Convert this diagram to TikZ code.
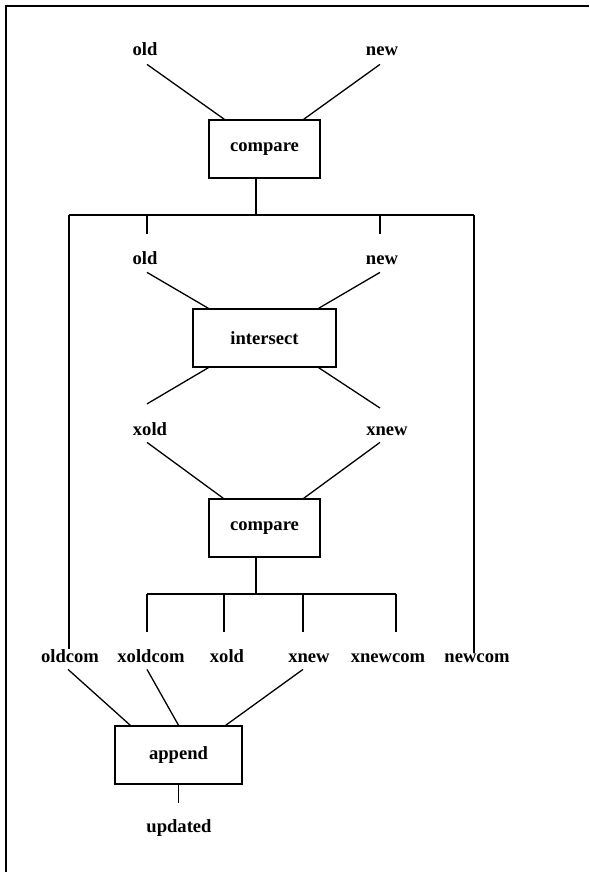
\documentclass[tikz,border=0pt]{standalone}
\usepackage{fontspec}
\setmainfont{Liberation Serif}
\usetikzlibrary{calc}
\tikzset{
  lbl/.style={inner sep=0pt, anchor=base, font=\fontsize{18.6}{22}\selectfont\bfseries},
  procbox/.style={draw, line width=1.5pt, inner sep=0pt, minimum height=58pt, font=\fontsize{18.6}{22}\selectfont\bfseries},
  conn/.style={line width=1.3pt},
  frameline/.style={line width=2pt}
}
\begin{document}
\begin{tikzpicture}[x=1pt,y=-1pt]
\useasboundingbox (0,0) rectangle (589,872);
\fill[white] (0,0) rectangle (589,872);
\draw[frameline] (6,872) -- (6,6) -- (589,6);

% boxes
\node[procbox, minimum width=111pt] (cmp1) at (264.5,149) {compare};
\node[procbox, minimum width=143pt] (isect) at (264.5,338) {intersect};
\node[procbox, minimum width=111pt] (cmp2) at (264.5,528) {compare};
\node[procbox, minimum width=127pt] (app) at (178.5,755) {append};

% labels
\node[lbl] (old1) at (145,56) {old};
\node[lbl] (new1) at (382,56) {new};
\node[lbl] (old2) at (145,264) {old};
\node[lbl] (new2) at (382,264) {new};
\node[lbl] (xold1) at (150,435) {xold};
\node[lbl] (xnew1) at (387,435) {xnew};
\node[lbl] (oldcom) at (70,662) {oldcom};
\node[lbl] (xoldcom) at (151,662) {xoldcom};
\node[lbl] (xold2) at (227,662) {xold};
\node[lbl] (xnew2) at (309,662) {xnew};
\node[lbl] (xnewcom) at (388,662) {xnewcom};
\node[lbl] (newcom) at (477,662) {newcom};
\node[lbl] (upd) at (179,832) {updated};

% coordinates for buses and free ends
\coordinate (j1) at (256,215);
\coordinate (b1l) at (69,215);
\coordinate (b1r) at (474,215);
\coordinate (d1a) at (147,234);
\coordinate (d1b) at (380,234);
\coordinate (j2) at (256,594);
\coordinate (b2l) at (147,594);
\coordinate (b2r) at (396,594);
\coordinate (d2a) at (147,632);
\coordinate (d2b) at (224,632);
\coordinate (d2c) at (303,632);
\coordinate (d2d) at (396,632);
\coordinate (uend) at (178.5,803);

% top inputs
\draw[conn] ([xshift=2pt,yshift=-8pt]old1.south) -- ([xshift=16pt]cmp1.north west);
\draw[conn] ([xshift=-2pt,yshift=-8pt]new1.south) -- ([xshift=-17pt]cmp1.north east);

% first bus
\draw[conn] ([xshift=-8.5pt]cmp1.south) -- (j1);
\draw[conn] (b1l) -- (b1r);
\draw[conn] (d1a |- b1l) -- (d1a);
\draw[conn] (d1b |- b1l) -- (d1b);
\draw[conn] (b1l) -- (b1l |- oldcom.north);
\draw[conn] (b1r) -- (b1r |- newcom.north);

% intersect
\draw[conn] ([xshift=2pt,yshift=-8pt]old2.south) -- ([xshift=16pt]isect.north west);
\draw[conn] ([xshift=-2pt,yshift=-8pt]new2.south) -- ([xshift=-18pt]isect.north east);
\draw[conn] ([xshift=16pt]isect.south west) -- ([xshift=-3pt,yshift=18pt]xold1.north);
\draw[conn] ([xshift=-18pt]isect.south east) -- ([xshift=-7pt,yshift=18pt]xnew1.north);

% second compare
\draw[conn] ([xshift=-3pt,yshift=-7pt]xold1.south) -- ([xshift=15pt]cmp2.north west);
\draw[conn] ([xshift=-7pt,yshift=-7pt]xnew1.south) -- ([xshift=-17pt]cmp2.north east);
\draw[conn] ([xshift=-8.5pt]cmp2.south) -- (j2);
\draw[conn] (b2l) -- (b2r);
\draw[conn] (b2l) -- (d2a);
\draw[conn] (d2b |- b2l) -- (d2b);
\draw[conn] (d2c |- b2l) -- (d2c);
\draw[conn] (b2r) -- (d2d);

% append
\draw[conn] ([xshift=-2pt,yshift=-7pt]oldcom.south) -- ([xshift=16pt]app.north west);
\draw[conn] ([xshift=-4pt,yshift=-7pt]xoldcom.south) -- (app.north);
\draw[conn] ([xshift=-6pt,yshift=-7pt]xnew2.south) -- ([xshift=-17pt]app.north east);
\draw[conn] (app.south) -- (uend);
\end{tikzpicture}
\end{document}
